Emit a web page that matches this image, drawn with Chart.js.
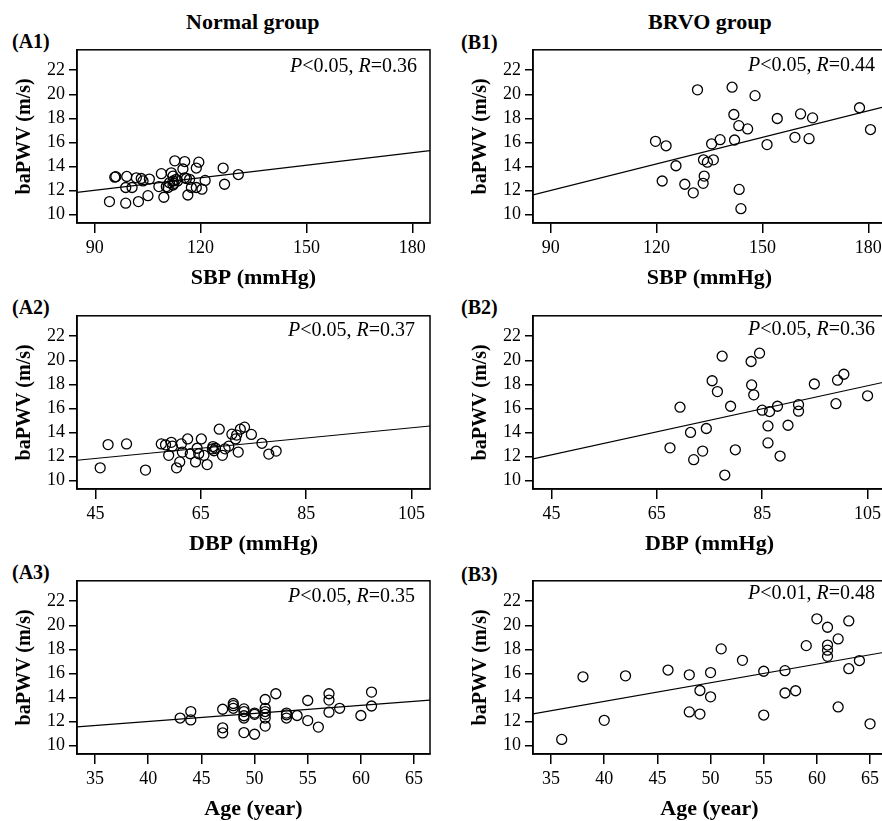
<!DOCTYPE html>
<html lang="en">
<head>
<meta charset="UTF-8">
<title>baPWV correlations</title>
<style>
body {margin:0; width:882px; height:821px; overflow:hidden; position:relative; background:#fff; color:#000; font-family:"Liberation Serif","Times New Roman",serif;}
canvas {position:absolute;}
.hd, .tag {position:absolute; font-weight:bold; font-size:20px; line-height:24px; white-space:nowrap;}
.hd {font-size:22px; line-height:26px;}
.stat {position:absolute; font-size:20px; line-height:24px; white-space:nowrap;}
</style>
</head>
<body>
<div class="hd" style="left:186px;top:9px">Normal group</div>
<div class="hd" style="left:648px;top:9px">BRVO group</div>

<div class="tag" style="left:12px;top:29px">(A1)</div>
<div class="tag" style="left:461px;top:30px">(B1)</div>
<div class="tag" style="left:12px;top:295px">(A2)</div>
<div class="tag" style="left:461px;top:295px">(B2)</div>
<div class="tag" style="left:12px;top:560px">(A3)</div>
<div class="tag" style="left:461px;top:562px">(B3)</div>

<canvas id="a1" width="440" height="258" style="left:0;top:35px"></canvas>
<canvas id="b1" width="440" height="258" style="left:456px;top:35px"></canvas>
<canvas id="a2" width="440" height="258" style="left:0;top:301px"></canvas>
<canvas id="b2" width="440" height="258" style="left:456px;top:301px"></canvas>
<canvas id="a3" width="440" height="258" style="left:0;top:566px"></canvas>
<canvas id="b3" width="440" height="258" style="left:456px;top:566px"></canvas>

<div class="stat" style="right:465px;top:53px"><i>P</i>&lt;0.05, <i>R</i>=0.36</div>
<div class="stat" style="right:7px;top:52px"><i>P</i>&lt;0.05, <i>R</i>=0.44</div>
<div class="stat" style="right:467px;top:317px"><i>P</i>&lt;0.05, <i>R</i>=0.37</div>
<div class="stat" style="right:7px;top:316px"><i>P</i>&lt;0.05, <i>R</i>=0.36</div>
<div class="stat" style="right:467px;top:583px"><i>P</i>&lt;0.05, <i>R</i>=0.35</div>
<div class="stat" style="right:7px;top:580px"><i>P</i>&lt;0.01, <i>R</i>=0.48</div>

<script src="https://cdn.jsdelivr.net/npm/chart.js"></script>
<script>
// baPWV (m/s) against SBP, DBP and age, normal vs BRVO group
const pwvTicks = [10,12,14,16,18,20,22];
const pwvRange = [9.3, 23.7];

const sbpTicks = [90,120,150,180];
const sbpRange = [85, 185];
const dbpTicks = [45,65,85,105];
const dbpRange = [41.5, 108.5];
const ageTicks = [35,40,45,50,55,60,65];
const ageRange = [33.3, 66.5];

// normal group
const normSbp = [94.2,95.7,96.0,98.8,99.1,98.8,100.6,101.8,102.4,103.2,103.7,105.1,105.5,108.9,108.2,109.6,110.3,111.2,111.7,112.2,112.2,112.7,113.1,112.2,115.0,115.5,115.5,116.4,116.9,117.4,118.8,118.8,119.5,120.4,121.3,126.4,126.8,130.7,116.0,110.8,112.5,113.5];
const normSbpPwv = [11.08,13.11,13.15,10.95,13.17,12.25,12.25,13.06,11.08,13.0,12.8,11.57,12.95,13.4,12.33,11.44,12.33,12.65,13.47,12.79,13.2,14.47,12.93,12.46,13.79,14.41,13.06,11.63,12.93,12.25,12.25,13.87,14.36,12.11,12.84,13.87,12.52,13.33,13.0,12.25,12.6,12.8];
const normSbpFit = [11.84, 15.31];

const normDbp = [45.9,47.4,50.9,54.5,57.5,58.3,58.9,59.4,59.6,60.4,61.0,61.3,61.5,62.5,63.0,64.0,64.3,64.6,65.1,65.6,66.2,67.2,67.3,67.5,68.5,69.1,69.6,70.3,70.9,71.6,71.8,72.1,72.5,73.3,74.6,76.6,77.9,79.3,67.8];
const normDbpPwv = [11.06,12.99,13.05,10.87,13.05,12.97,12.1,13.18,12.86,11.06,11.55,13.05,12.37,13.46,12.23,11.55,12.69,12.23,13.46,12.1,11.33,12.64,12.83,12.48,14.27,12.1,12.64,12.86,13.86,13.46,13.78,12.37,14.27,14.44,13.84,13.1,12.2,12.45,12.69];
const normDbpFit = [11.69, 14.54];

const normAge = [43,44,44,47,47,47,48,48,48,49,49,49,49,49,50,50,51,51,51,51,51,51,52,53,53,53,54,55,55,56,57,57,57,58,60,61,61,50];
const normAgePwv = [12.29,12.83,12.13,13.02,11.48,11.05,13.5,13.32,13.1,13.05,12.29,12.48,12.83,11.08,12.7,10.94,13.83,13.1,12.83,12.29,11.62,12.6,14.31,12.7,12.29,12.56,12.5,13.75,12.08,11.54,14.31,13.78,12.78,13.1,12.5,14.45,13.29,12.6];
const normAgeFit = [11.56, 13.78];

// BRVO group
const brvoSbp = [119.7,122.7,121.6,125.5,128.0,130.4,131.6,133.2,133.5,133.3,134.4,136.1,135.6,138.0,141.4,141.9,142.1,143.3,143.4,143.9,145.8,147.9,151.3,154.2,159.2,160.8,163.2,164.2,177.5,180.6];
const brvoSbpPwv = [16.09,15.72,12.79,14.06,12.52,11.81,20.37,12.6,13.2,14.55,14.36,14.55,15.88,16.23,20.59,18.32,16.2,17.39,12.09,10.49,17.12,19.89,15.82,17.99,16.42,18.37,16.31,18.04,18.88,17.07];
const brvoSbpFit = [11.64, 19.0];

const brvoDbp = [67.5,69.4,71.4,72.0,73.7,74.4,75.5,76.5,77.4,77.9,79.0,79.9,82.9,83.0,83.4,84.5,85.0,86.4,86.1,86.1,87.9,88.4,89.9,91.9,91.9,94.9,99.0,99.3,100.5,105.0];
const brvoDbpPwv = [12.72,16.1,14.0,11.74,12.45,14.33,18.3,17.4,20.34,10.46,16.18,12.56,19.9,17.95,17.13,20.59,15.85,15.74,14.54,13.13,16.18,12.04,14.6,16.31,15.77,18.03,16.39,18.35,18.84,17.05];
const brvoDbpFit = [11.81, 18.22];

const brvoAge = [36,38,40,42,46,48,48,49,49,50,50,51,53,55,55,57,57,58,59,60,61,61,61,61,62,62,63,63,64,65];
const brvoAgePwv = [10.51,15.72,12.1,15.8,16.28,15.88,12.8,14.58,12.62,16.07,14.05,18.04,17.09,16.18,12.54,16.23,14.37,14.56,18.31,20.54,19.84,18.36,17.93,17.42,18.87,13.21,20.36,16.39,17.07,11.81];
const brvoAgeFit = [12.64, 17.78];

Chart.defaults.font.family = '"Liberation Serif", "Times New Roman", serif';
Chart.defaults.color = '#000';

const boxPlugin = {
  id: 'box',
  afterDraw(chart) {
    const a = chart.chartArea, ctx = chart.ctx;
    ctx.save();
    ctx.strokeStyle = '#000';
    ctx.lineWidth = 1.5;
    ctx.strokeRect(a.left, a.top, a.right - a.left, a.bottom - a.top);
    ctx.restore();
  }
};

function panel(id, xs, ys, fit, range, ticks, xTitle) {
  const pts = xs.map((x, i) => ({x: x, y: ys[i]}));
  new Chart(document.getElementById(id), {
    type: 'scatter',
    data: {datasets: [
      {data: [{x: range[0], y: fit[0]}, {x: range[1], y: fit[1]}], showLine: true, pointRadius: 0, borderColor: '#000', borderWidth: 1.2},
      {data: pts, pointRadius: 5, pointBorderWidth: 1.3, borderColor: '#000', backgroundColor: 'rgba(0,0,0,0)'}
    ]},
    options: {
      responsive: false, animation: false,
      layout: {padding: {top: 10, right: 10, left: 0, bottom: 0}},
      plugins: {legend: {display: false}, tooltip: {enabled: false}},
      scales: {
        x: {
          type: 'linear', min: range[0], max: range[1],
          afterBuildTicks: s => { s.ticks = ticks.map(v => ({value: v})); },
          afterFit: s => { s.height = 70; },
          grid: {drawOnChartArea: false, drawTicks: true, tickLength: 10, color: '#000', lineWidth: 1.5},
          border: {display: true, color: '#000', width: 1.5},
          ticks: {font: {size: 18}, padding: 4, maxRotation: 0, autoSkip: false},
          title: {display: true, text: xTitle, font: {size: 22, weight: 'bold'}, padding: {top: 0, bottom: 1}}
        },
        y: {
          min: pwvRange[0], max: pwvRange[1],
          afterBuildTicks: s => { s.ticks = pwvTicks.map(v => ({value: v})); },
          afterFit: s => { s.width = 77; },
          grid: {drawOnChartArea: false, drawTicks: true, tickLength: 8, color: '#000', lineWidth: 1.5},
          border: {display: true, color: '#000', width: 1.5},
          ticks: {font: {size: 18}, padding: 4},
          title: {display: true, text: 'baPWV (m/s)', font: {size: 20, weight: 'bold'}, padding: {top: 13, bottom: 0}}
        }
      }
    },
    plugins: [boxPlugin]
  });
}

panel('a1', normSbp, normSbpPwv, normSbpFit, sbpRange, sbpTicks, 'SBP (mmHg)');
panel('b1', brvoSbp, brvoSbpPwv, brvoSbpFit, sbpRange, sbpTicks, 'SBP (mmHg)');
panel('a2', normDbp, normDbpPwv, normDbpFit, dbpRange, dbpTicks, 'DBP (mmHg)');
panel('b2', brvoDbp, brvoDbpPwv, brvoDbpFit, dbpRange, dbpTicks, 'DBP (mmHg)');
panel('a3', normAge, normAgePwv, normAgeFit, ageRange, ageTicks, 'Age (year)');
panel('b3', brvoAge, brvoAgePwv, brvoAgeFit, ageRange, ageTicks, 'Age (year)');
</script>
</body>
</html>
